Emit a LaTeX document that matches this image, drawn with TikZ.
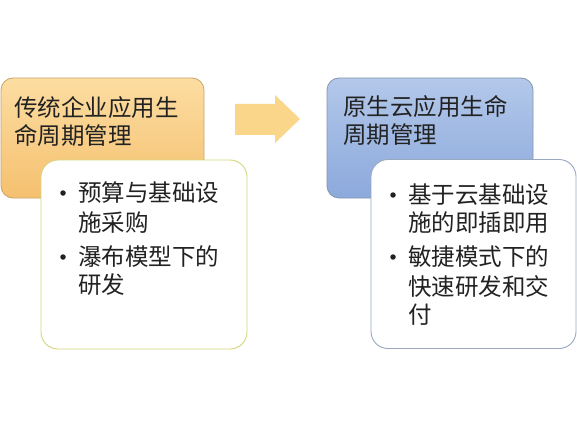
\documentclass[tikz,border=0pt]{standalone}
\usepackage{fontspec}
\setmainfont{Noto Sans CJK SC}
\usetikzlibrary{shapes.arrows}
\definecolor{txt}{HTML}{222222}
\definecolor{otop}{HTML}{FCDDA2}
\definecolor{obot}{HTML}{F5C06F}
\definecolor{oline}{HTML}{C9A46A}
\definecolor{btop}{HTML}{B3C8EA}
\definecolor{bbot}{HTML}{8CA9DC}
\definecolor{bline}{HTML}{8695AA}
\definecolor{wyline}{HTML}{D3D67A}
\definecolor{wbline}{HTML}{98A8C0}
\definecolor{arrowc}{HTML}{FAD68A}
\tikzset{
  headbox/.style={rectangle, rounded corners=12pt, line width=0.8pt, inner sep=0pt},
  orangebox/.style={headbox, draw=oline, top color=otop, bottom color=obot},
  bluebox/.style={headbox, draw=bline, top color=btop, bottom color=bbot},
  listbox/.style={rectangle, rounded corners=17pt, line width=0.9pt, inner sep=0pt, fill=white},
  line/.style={anchor=west, inner sep=0pt, text=txt, font=\fontsize{23.5pt}{27pt}\selectfont},
  dot/.style={circle, fill=txt, inner sep=0pt, minimum size=5.5pt}
}
\begin{document}
\begin{tikzpicture}[x=1pt,y=-1pt]
\useasboundingbox (0,0) rectangle (577,422);
\fill[white] (0,0) rectangle (577,422);
% left head box
\node[orangebox, minimum width=203pt, minimum height=120pt] (lhead) at (102.5,138) {};
\node[line] (lt1) at (14,108) {传统企业应用生};
\node[line] (lt2) at (14,135) {命周期管理};
% left list box
\node[listbox, draw=wyline, minimum width=206pt, minimum height=189pt] (llist) at (144,254.5) {};
\node[dot] (lb1) at (63,193) {};
\node[line] (l1) at (78,193) {预算与基础设};
\node[line] (l2) at (78,223) {施采购};
\node[dot] (lb2) at (63,257) {};
\node[line] (l3) at (78,257) {瀑布模型下的};
\node[line] (l4) at (78,285) {研发};
% arrow
\fill[arrowc] (235,104) -- (275,104) -- (275,95) -- (300,119) -- (275,143) -- (275,135) -- (235,135) -- cycle;
% right head box
\node[bluebox, minimum width=206pt, minimum height=120pt] (rhead) at (430,138) {};
\node[line] (rt1) at (343,107) {原生云应用生命};
\node[line] (rt2) at (343,135) {周期管理};
% right list box
\node[listbox, draw=wbline, minimum width=205pt, minimum height=189pt] (rlist) at (473.5,254) {};
\node[dot] (rb1) at (393,195) {};
\node[line] (r1) at (408,195) {基于云基础设};
\node[line] (r2) at (408,223) {施的即插即用};
\node[dot] (rb2) at (393,257) {};
\node[line] (r3) at (408,257) {敏捷模式下的};
\node[line] (r4) at (408,287) {快速研发和交};
\node[line] (r5) at (408,315) {付};
\end{tikzpicture}
\end{document}
